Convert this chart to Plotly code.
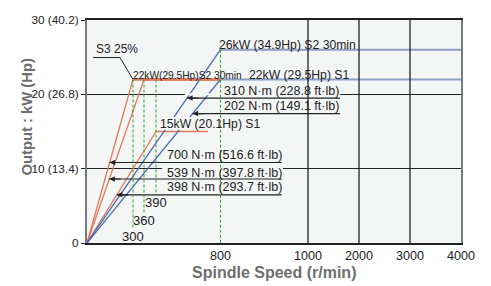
import numpy as np
import plotly.graph_objects as go

# ---------------- data ----------------
speed_tick_vals = [800, 1000, 2000, 3000, 4000]
speed_tick_text = ["800", "1000", "2000", "3000", "4000"]
base_speeds = [300, 360, 390]
base_speed_text = ["300", "360", "390"]
power_tick_vals = [0, 10, 20, 30]
power_tick_text = ["0", "10 (13.4)", "20 (26.8)", "30 (40.2)"]

# power curves (r/min, kW)
s3_rpm = [0, 300, 800]
s3_kw = [0, 22, 22]
s2_low_rpm = [0, 360, 800]
s2_low_kw = [0, 22, 22]
s1_low_rpm = [0, 390, 720]
s1_low_kw = [0, 15, 15]
s2_high_rpm = [0, 800, 4000]
s2_high_kw = [0, 26, 26]
s1_high_rpm = [0, 800, 4000]
s1_high_kw = [0, 22, 22]

torque_text = ["700 N\u00b7m (516.6 ft\u00b7lb)", "539 N\u00b7m (397.8 ft\u00b7lb)",
               "398 N\u00b7m (293.7 ft\u00b7lb)", "310 N\u00b7m (228.8 ft\u00b7lb)",
               "202 N\u00b7m (149.1 ft\u00b7lb)"]

# ---------------- x scale (schematic, piecewise) ----------------
SCALE_RPM = [0, 300, 360, 390, 800, 1000, 2000, 3000, 4000]
SCALE_POS = [0, 46, 57, 69, 133.5, 221, 272, 323, 374]


def X(r):
    return float(np.interp(r, SCALE_RPM, SCALE_POS))


def XS(rs):
    return [X(r) for r in rs]


ORANGE = "#e2785c"
BLUE = "#4d6db0"
BLUE_H = "#8b9ec6"
GREEN = "#2aa52a"
DARK = "#222222"
BG = "#f4f6f6"
FONT = "Liberation Sans, Arial, sans-serif"

fig = go.Figure()


def seg(xs, ys, color, width):
    fig.add_trace(go.Scatter(x=xs, y=ys, mode="lines",
                             line=dict(color=color, width=width),
                             hoverinfo="skip", showlegend=False))


# orange (low-speed winding) curves: diagonal + flat
for rpm, kw in [(s3_rpm, s3_kw), (s2_low_rpm, s2_low_kw), (s1_low_rpm, s1_low_kw)]:
    seg(XS(rpm[:2]), kw[:2], ORANGE, 1.3)
for rpm, kw, w in [(s3_rpm, s3_kw, 2.5), (s2_low_rpm, s2_low_kw, 2.5), (s1_low_rpm, s1_low_kw, 1.5)]:
    seg(XS(rpm[1:]), kw[1:], ORANGE, w)
# blue (high-speed winding) curves
for rpm, kw in [(s2_high_rpm, s2_high_kw), (s1_high_rpm, s1_high_kw)]:
    seg(XS(rpm[:2]), kw[:2], BLUE, 1.3)
    seg(XS(rpm[1:]), kw[1:], BLUE_H, 2)

# torque label leader lines: (curve rpm at corner, curve kW at corner, level kW, end rpm)
torque_curves = [(300, 22, 10.83, 940), (360, 22, 8.61, 940), (390, 15, 6.48, 940),
                 (800, 26, 19.5, 1625), (800, 22, 17.41, 1625)]
arrow_anns = []
for (r0, k0, lvl, rend) in torque_curves:
    tip = X(r0) * lvl / k0
    seg([tip, X(rend)], [lvl, lvl], DARK, 1.2)
    arrow_anns.append(dict(x=tip, y=lvl, xref="x", yref="y", ax=13, ay=0, text="",
                           showarrow=True, arrowhead=2, arrowsize=1, arrowwidth=1.1,
                           arrowcolor=DARK, standoff=0))

# S3 leader
seg([6, 33, X(300)], [24.95, 24.95, 22], DARK, 1)

# ---------------- shapes (above traces) ----------------
shapes = []
# background behind "15kW" label and gaps in horizontal grid lines
shapes.append(dict(type="rect", xref="x", yref="y", x0=70, x1=173, y0=15.2, y1=16.96,
                   fillcolor=BG, line=dict(width=0), layer="above"))
shapes.append(dict(type="rect", xref="x", yref="y", x0=98, x1=253, y0=19.86, y1=20.14,
                   fillcolor=BG, line=dict(width=0), layer="above"))
shapes.append(dict(type="rect", xref="x", yref="y", x0=75, x1=196, y0=9.86, y1=10.14,
                   fillcolor=BG, line=dict(width=0), layer="above"))
# green dashed base-speed lines
for r, ybot in zip(base_speeds, [1.96, 4.08, 6.69]):
    shapes.append(dict(type="line", xref="x", yref="y", x0=X(r), x1=X(r), y0=22, y1=ybot,
                       line=dict(color=GREEN, width=1, dash="3px,2px"), layer="above"))
shapes.append(dict(type="line", xref="x", yref="y", x0=X(800), x1=X(800), y0=26, y1=0,
                   line=dict(color=GREEN, width=1, dash="3px,2px"), layer="above"))
# black vertical grid lines
for r in [1000, 2000, 3000]:
    shapes.append(dict(type="line", xref="x", yref="y", x0=X(r), x1=X(r), y0=0, y1=30,
                       line=dict(color=DARK, width=1.3), layer="above"))

# ---------------- annotations ----------------
anns = []


def label(text, x, y, size=12.2, anchor="left"):
    anns.append(dict(text=text, x=x, y=y, xref="x", yref="y", xanchor=anchor,
                     yanchor="middle", showarrow=False, borderpad=0,
                     font=dict(family=FONT, size=size, color=DARK)))


label("S3 25%", 8, 26.05, size=12)
label("22kW(29.5Hp)S2 30min", 44.7, 22.6, size=10.2)
label("26kW (34.9Hp) S2 30min", 131.3, 26.7)
label("22kW (29.5Hp) S1", 161.3, 22.57)
label("15kW (20.1Hp) S1", 72.3, 15.95)
label(torque_text[3], 136.3, 20.48, size=12.5)
label(torque_text[4], 136.3, 18.43, size=12.5)
label(torque_text[0], 79, 11.78, size=12.5)
label(torque_text[1], 79, 9.43, size=12.5)
label(torque_text[2], 79, 7.47, size=12.5)
for r, t, yv in zip(base_speeds, base_speed_text, [0.82, 2.97, 5.48]):
    label(t, X(r), yv, size=13, anchor="center")
anns += arrow_anns

# axis titles
anns.append(dict(text="Output : kW (Hp)", x=-0.1604, y=0.567, xref="paper", yref="paper",
                 textangle=-90, showarrow=False, xanchor="center", yanchor="middle",
                 font=dict(family=FONT, size=14.8, color="#6e6e6e", weight=700)))
anns.append(dict(text="Spindle Speed (r/min)", x=0.5, y=-0.1304, xref="paper", yref="paper",
                 showarrow=False, xanchor="center", yanchor="middle",
                 font=dict(family=FONT, size=16, color="#6e6e6e", weight=700)))

# page body has an 8px margin, so the figure is sized to fit the 491x286 window
fig.update_layout(
    width=483, height=278,
    margin=dict(l=79, r=30, t=5, b=43),
    paper_bgcolor="white", plot_bgcolor=BG,
    shapes=shapes, annotations=anns,
    xaxis=dict(range=[0, 374], tickvals=XS(speed_tick_vals), ticktext=speed_tick_text,
               showgrid=False, zeroline=False, showline=True, linecolor=DARK, linewidth=1.5,
               mirror=True, ticks="", tickfont=dict(family=FONT, size=12.6, color=DARK)),
    yaxis=dict(range=[0, 30], tickvals=power_tick_vals, ticktext=power_tick_text,
               showgrid=True, gridcolor=DARK, gridwidth=1, zeroline=False,
               showline=True, linecolor="#7a7a7a", linewidth=2, mirror=True,
               ticks="outside", ticklen=4, tickcolor=DARK,
               tickfont=dict(family=FONT, size=11.8, color=DARK)),
)

fig.write_html("out.html")
